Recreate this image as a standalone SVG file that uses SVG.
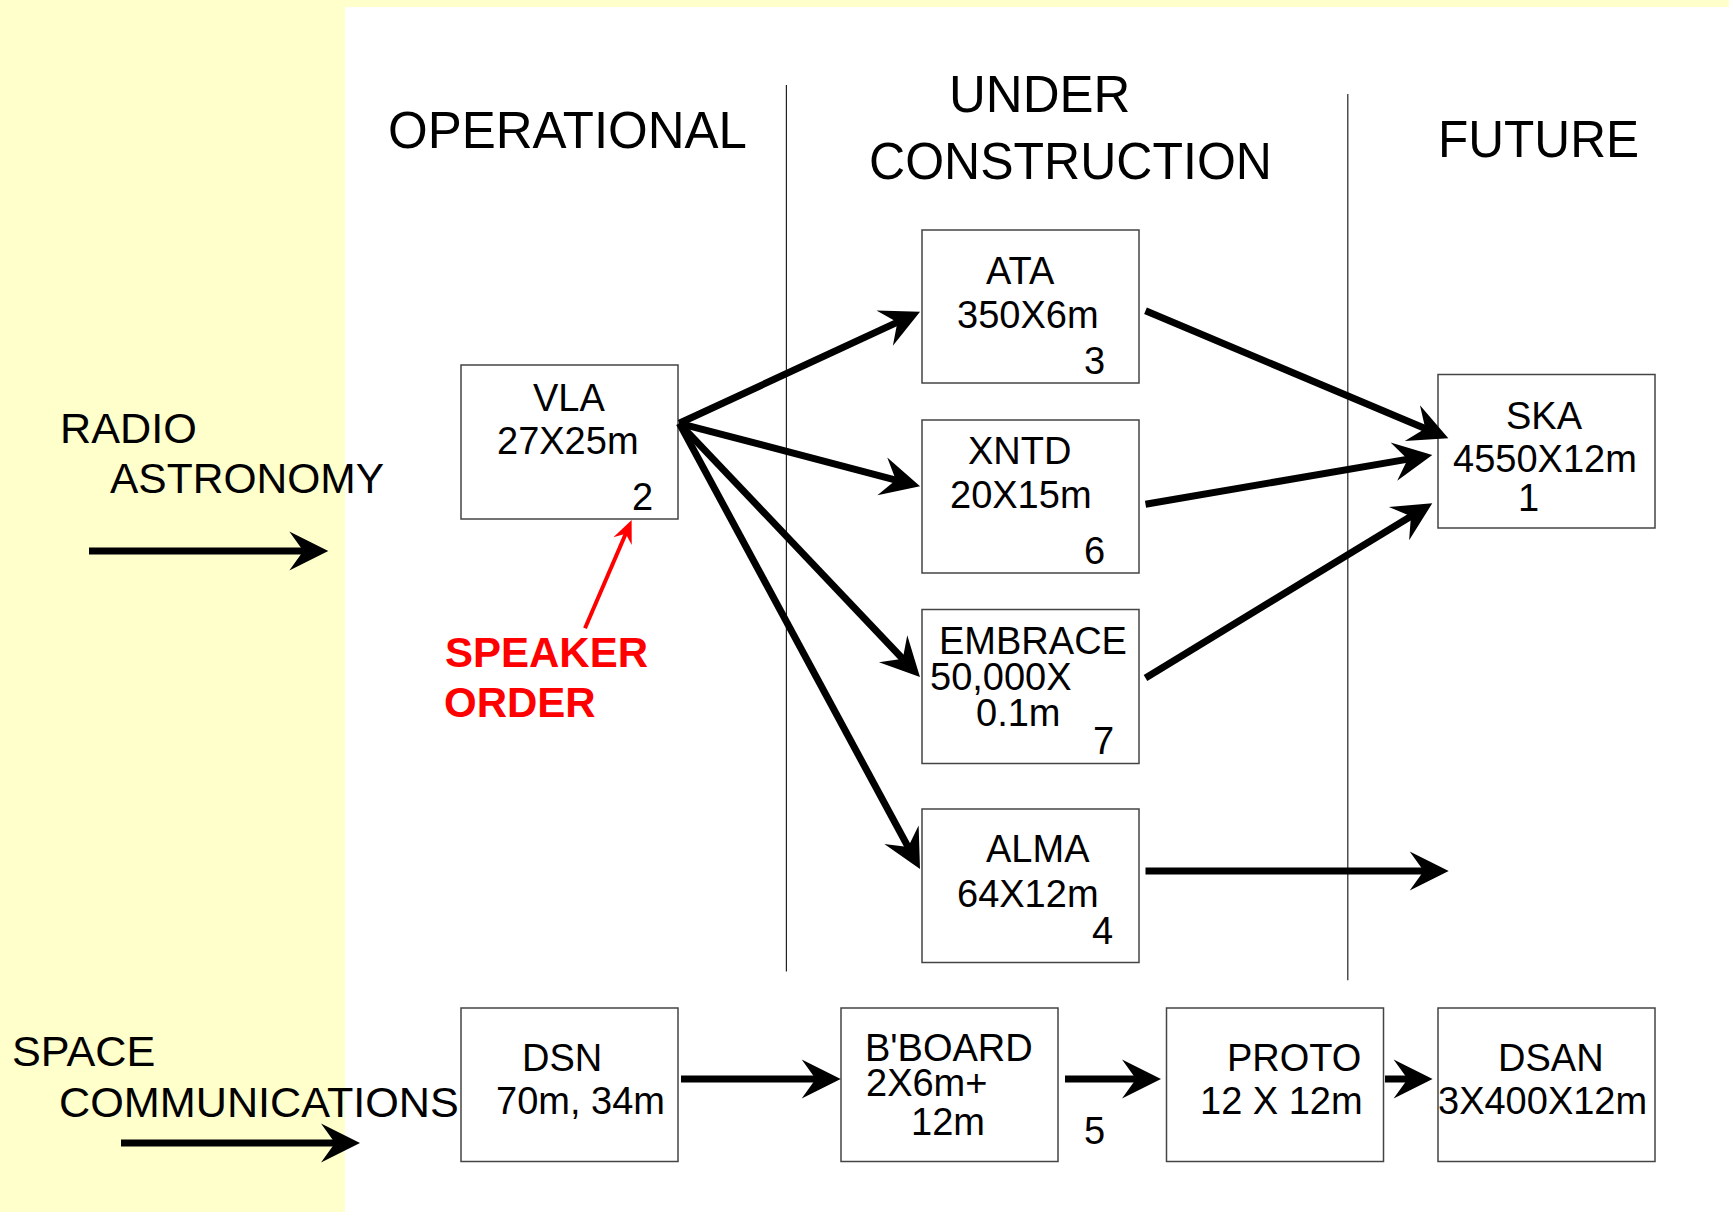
<svg xmlns="http://www.w3.org/2000/svg" width="1729" height="1212" viewBox="0 0 1729 1212">
<style>
.t{font-family:"Liberation Sans",Arial,sans-serif;fill:#000}
.h{font-size:51px}
.s{font-size:43.2px}
.n{font-size:38px}
.r{font-size:42px;font-weight:bold;fill:#FF0000}
.box{fill:#fff;stroke:#444;stroke-width:1.5}
.c{stroke:#000;stroke-width:7;fill:none;marker-end:url(#ah)}
.div{stroke:#222;stroke-width:1.2}
</style>
<defs>
<marker id="ah" markerUnits="userSpaceOnUse" orient="auto" refX="0" refY="0" markerWidth="80" markerHeight="80" overflow="visible">
<path d="M20,0 L-19,-19.5 L-5,0 L-19,19.5 Z" fill="#000"/>
</marker>
<marker id="ahr" markerUnits="userSpaceOnUse" orient="auto" refX="0" refY="0" markerWidth="40" markerHeight="40" overflow="visible">
<path d="M12,0 L-11,-10 L-3,0 L-11,10 Z" fill="#FF0000"/>
</marker>
</defs>
<rect x="0" y="0" width="1729" height="1212" fill="#FFFFCC"/>
<rect x="345" y="7" width="1384" height="1205" fill="#FFFFFF"/>
<line class="div" x1="786.4" y1="85" x2="786.4" y2="971.6"/>
<line class="div" x1="1347.8" y1="94" x2="1347.8" y2="980.2"/>
<g id="headings">
<text class="t h" x="388" y="148">OPERATIONAL</text>
<text class="t h" x="949" y="112">UNDER</text>
<text class="t h" x="869" y="178.6" textLength="403" lengthAdjust="spacingAndGlyphs">CONSTRUCTION</text>
<text class="t h" x="1438" y="157" textLength="201" lengthAdjust="spacingAndGlyphs">FUTURE</text>
</g>
<g id="radio-astronomy">
<text class="t s" x="60" y="443">RADIO</text>
<text class="t s" x="110" y="493" textLength="274" lengthAdjust="spacingAndGlyphs">ASTRONOMY</text>
</g>
<g id="space-communications">
<text class="t s" x="12" y="1066">SPACE</text>
<text class="t s" x="59" y="1117.4">COMMUNICATIONS</text>
</g>
<g id="speaker-order">
<text class="t r" x="445" y="667">SPEAKER</text>
<text class="t r" x="444" y="717">ORDER</text>
</g>
<g id="vla">
<rect class="box" x="461" y="365" width="217" height="154"/>
<text class="t n" x="533" y="410.7">VLA</text>
<text class="t n" x="497" y="453.6">27X25m</text>
<text class="t n" x="632" y="509.6">2</text>
</g>
<g id="ata">
<rect class="box" x="922" y="230" width="217" height="153"/>
<text class="t n" x="986" y="284">ATA</text>
<text class="t n" x="957" y="327.5">350X6m</text>
<text class="t n" x="1084" y="374">3</text>
</g>
<g id="xntd">
<rect class="box" x="922" y="420" width="217" height="153"/>
<text class="t n" x="968" y="464.3">XNTD</text>
<text class="t n" x="950" y="508.2">20X15m</text>
<text class="t n" x="1084" y="564.4">6</text>
</g>
<g id="embrace">
<rect class="box" x="922" y="609.5" width="217" height="154"/>
<text class="t n" x="939" y="653.6">EMBRACE</text>
<text class="t n" x="930" y="690">50,000X</text>
<text class="t n" x="976" y="725.6">0.1m</text>
<text class="t n" x="1093" y="754.3">7</text>
</g>
<g id="alma">
<rect class="box" x="922" y="809" width="217" height="153.5"/>
<text class="t n" x="986" y="862.3">ALMA</text>
<text class="t n" x="957" y="906.5">64X12m</text>
<text class="t n" x="1092" y="944.2">4</text>
</g>
<g id="ska">
<rect class="box" x="1438" y="374.5" width="217" height="153.5"/>
<text class="t n" x="1506" y="428.6">SKA</text>
<text class="t n" x="1453" y="472">4550X12m</text>
<text class="t n" x="1518" y="510.7">1</text>
</g>
<g id="dsn">
<rect class="box" x="461" y="1008" width="217" height="153.5"/>
<text class="t n" x="522" y="1070.6">DSN</text>
<text class="t n" x="496" y="1114.4">70m, 34m</text>
</g>
<g id="bboard">
<rect class="box" x="841" y="1008" width="217" height="153.5"/>
<text class="t n" x="865" y="1060.8">B'BOARD</text>
<text class="t n" x="866" y="1096.4">2X6m+</text>
<text class="t n" x="911" y="1134.5">12m</text>
</g>
<g id="label-5">
<text class="t n" x="1084" y="1143.5">5</text>
</g>
<g id="proto">
<rect class="box" x="1166.5" y="1008" width="217" height="153.5"/>
<text class="t n" x="1227" y="1070.6">PROTO</text>
<text class="t n" x="1200" y="1114.4">12 X 12m</text>
</g>
<g id="dsan">
<rect class="box" x="1438" y="1008" width="217" height="153.5"/>
<text class="t n" x="1498" y="1070.6">DSAN</text>
<text class="t n" x="1438" y="1114.4">3X400X12m</text>
</g>
<g id="connectors">
<line class="c" x1="89" y1="551" x2="308.3" y2="551"/>
<line class="c" x1="121" y1="1143" x2="340" y2="1143"/>
<line class="c" x1="679.3" y1="423.3" x2="901.9" y2="320.1"/>
<line class="c" x1="679.3" y1="423.3" x2="900.7" y2="481.3"/>
<line class="c" x1="679.3" y1="423.3" x2="906.2" y2="662.5"/>
<line class="c" x1="679.3" y1="423.3" x2="910.5" y2="851.4"/>
<line class="c" x1="1145.5" y1="310.7" x2="1429.9" y2="430.5"/>
<line class="c" x1="1145.5" y1="504.3" x2="1412.6" y2="458.4"/>
<line class="c" x1="1145.5" y1="678" x2="1415.2" y2="513.7"/>
<line class="c" x1="1145.5" y1="871" x2="1428.7" y2="871"/>
<line class="c" x1="681" y1="1079" x2="820.7" y2="1079"/>
<line class="c" x1="1065" y1="1079" x2="1141" y2="1079"/>
<line class="c" x1="1385" y1="1079" x2="1412.6" y2="1079"/>
<line x1="585" y1="628.3" x2="626.9" y2="531" stroke="#FF0000" stroke-width="4" marker-end="url(#ahr)"/>
</g>
</svg>
